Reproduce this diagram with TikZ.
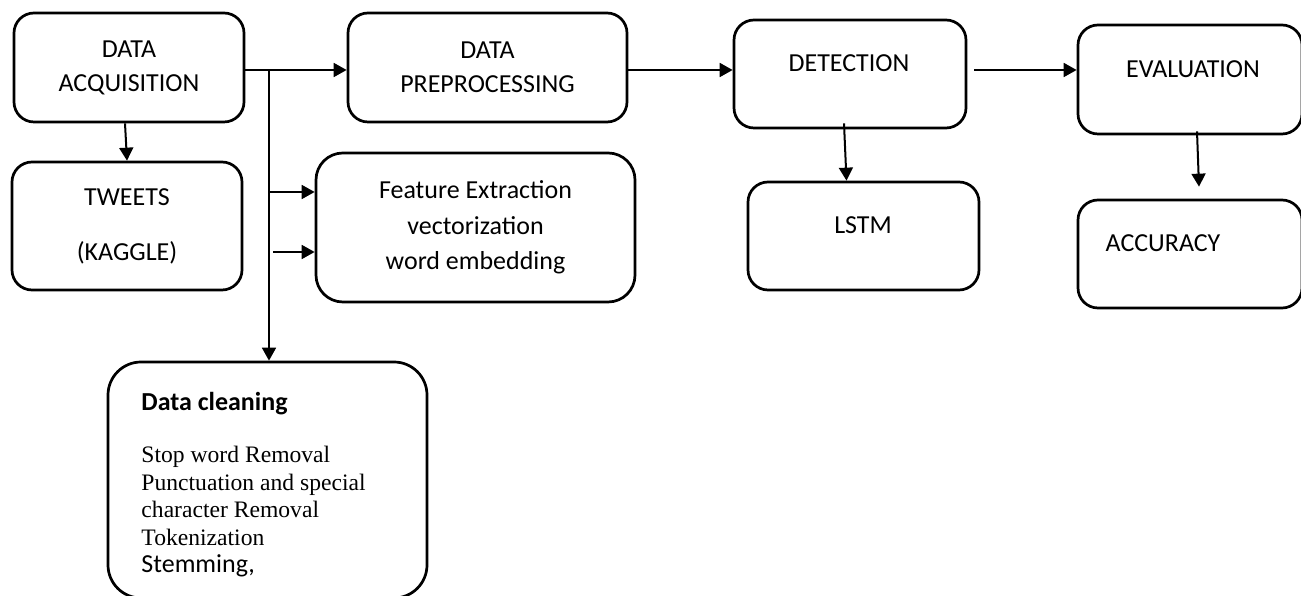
\documentclass[tikz,border=0pt]{standalone}
\usepackage{fontspec}
\setmainfont{Carlito}
\newfontfamily\timesfont{Liberation Serif}
\usetikzlibrary{positioning, arrows.meta, calc}

\newcommand{\pxl}{0.0149cm}
\tikzset{
  box/.style 2 args={draw, line width=1.15pt, rounded corners=8.5pt, minimum width=#1*\pxl, minimum height=#2*\pxl, inner sep=0pt, align=center, font=\fontsize{11}{14.4}\selectfont},
  txt/.style={inner sep=0pt, align=center, font=\fontsize{11}{14.4}\selectfont},
  arr/.style={-{Triangle[length=5.5pt, width=5.9pt]}, line width=0.85pt},
}

\begin{document}
\begin{tikzpicture}[x=0.0149cm, y=-0.0149cm]
\useasboundingbox (0,0) rectangle (1301,596);

% top row
\node[box={230}{109}] (acq) at (129,67.5) {DATA\\ACQUISITION};
\node[box={279}{109}] (pre) at (487.5,67.5) {DATA\\PREPROCESSING};
\node[box={232}{108}] (det) at (850,74) {};
\node[txt] (detlbl) at (849,63) {DETECTION};
\node[box={224}{109}] (ev) at (1190,79.5) {};
\node[txt] (evlbl) at (1193,69) {EVALUATION};

% second row
\node[box={230}{128}] (tw) at (127,226) {TWEETS\\[8.9pt](KAGGLE)};
\node[box={319}{149}, rounded corners=11.4pt, font=\fontsize{11}{15}\selectfont] (feat) at (475.5,227.5) {Feature Extraction\\vectorization\\word embedding};
\node[box={231}{108}] (lstm) at (863.5,236) {};
\node[txt] (lstmlbl) at (863,225) {LSTM};
\node[box={224}{108}] (acc) at (1190,254) {};
\node[txt] (acclbl) at (1163,243) {ACCURACY};

% data cleaning
\node[box={319}{236}, rounded corners=14pt] (dc) at (267.5,480) {};
\node[txt, anchor=base west, font=\bfseries\fontsize{11}{14}\selectfont] (dchead) at (141,411) {Data cleaning};
\node[txt, anchor=base west, align=left, font=\timesfont\fontsize{10}{11.7}\selectfont] (dcbody) at (141,573)
  {Stop word Removal\\Punctuation and special\\character Removal\\Tokenization\\{\normalfont\fontsize{11}{11.7}\selectfont Stemming,}};

% connectors
\coordinate (br) at (269,70);
\coordinate (f1) at (269,192);
\coordinate (f2) at (273,252);
\draw[arr] (acq.east |- br) -- (pre.west |- br);
\draw[arr] (br) -- (br |- dc.north);
\draw[arr] (f1) -- (feat.west |- f1);
\draw[arr] (f2) -- (feat.west |- f2);
\draw[arr] ($(acq.south)+(-4,0)$) -- (tw.north);
\draw[arr] (pre.east |- br) -- (det.west |- br);
\draw[arr, shorten <=3pt] (det.east |- br) -- (ev.west |- br);
\draw[arr] ($(det.south)+(-6,-6)$) -- ($(lstm.north)+(-17,0)$);
\draw[arr] ($(ev.south)+(7,-4)$) -- ($(acc.north)+(9,-12)$);
\end{tikzpicture}
\end{document}
